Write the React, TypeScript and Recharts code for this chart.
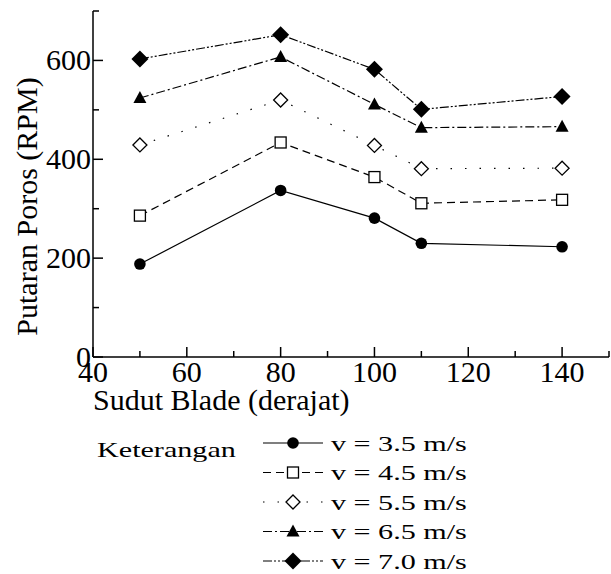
import React from "react";
import { LineChart, Line, XAxis, YAxis } from "recharts";

const angles = [50, 80, 100, 110, 140];
const v35 = [188, 337, 281, 230, 223];
const v45 = [286, 434, 364, 311, 318];
const v55 = [429, 520, 428, 381, 382];
const v65 = [524, 607, 511, 464, 466];
const v70 = [603, 652, 582, 501, 527];

const xMajor = [40, 60, 80, 100, 120, 140];
const xMinor = [50, 70, 90, 110, 130, 150];
const yMajor = [0, 200, 400, 600];
const yMinor = [100, 300, 500, 700];

const labels = ["v = 3.5 m/s", "v = 4.5 m/s", "v = 5.5 m/s", "v = 6.5 m/s", "v = 7.0 m/s"];

const FONT = "'Liberation Serif', 'Times New Roman', serif";

const data = angles.map((a, i) => ({
  angle: a,
  v35: v35[i],
  v45: v45[i],
  v55: v55[i],
  v65: v65[i],
  v70: v70[i],
}));

type Kind = "circle" | "square" | "odiamond" | "triangle" | "diamond";

const series: { key: string; kind: Kind; dash?: string }[] = [
  { key: "v35", kind: "circle" },
  { key: "v45", kind: "square", dash: "8 5" },
  { key: "v55", kind: "odiamond", dash: "1.5 13" },
  { key: "v65", kind: "triangle", dash: "9 3 2 3" },
  { key: "v70", kind: "diamond", dash: "9 2 2 2 2 2" },
];

function Marker({ kind, cx, cy }: { kind: Kind; cx: number; cy: number }) {
  if (kind === "circle") return <circle cx={cx} cy={cy} r={5.8} fill="#000" />;
  if (kind === "square")
    return <rect x={cx - 5.5} y={cy - 5.5} width={11} height={11} fill="#fff" stroke="#000" strokeWidth={1.3} />;
  if (kind === "odiamond")
    return (
      <polygon
        points={`${cx},${cy - 7} ${cx + 7},${cy} ${cx},${cy + 7} ${cx - 7},${cy}`}
        fill="#fff"
        stroke="#000"
        strokeWidth={1.3}
      />
    );
  if (kind === "triangle")
    return <polygon points={`${cx},${cy - 7} ${cx + 6.5},${cy + 5} ${cx - 6.5},${cy + 5}`} fill="#000" />;
  return <polygon points={`${cx},${cy - 8.5} ${cx + 8.5},${cy} ${cx},${cy + 8.5} ${cx - 8.5},${cy}`} fill="#000" />;
}

const tickStroke = { stroke: "#000", strokeWidth: 1.5 };

function BottomTick(props: any) {
  const { x, y, payload } = props;
  const major = xMajor.includes(payload.value);
  return (
    <g>
      <line x1={x} x2={x} y1={y} y2={y - (major ? 10 : 6)} {...tickStroke} />
      {major && (
        <text x={x} y={y + 25} textAnchor="middle" fontSize={30} fontFamily={FONT} fill="#000">
          {payload.value}
        </text>
      )}
    </g>
  );
}

function TopTick(props: any) {
  const { x, y, payload } = props;
  const major = xMajor.includes(payload.value);
  return <line x1={x} x2={x} y1={y} y2={y + (major ? 10 : 6)} {...tickStroke} />;
}

function LeftTick(props: any) {
  const { x, y, payload } = props;
  const major = yMajor.includes(payload.value);
  return (
    <g>
      <line x1={x} x2={x + (major ? 10 : 6)} y1={y} y2={y} {...tickStroke} />
      {major && (
        <text x={x - 2} y={y + 10} textAnchor="end" fontSize={30} fontFamily={FONT} fill="#000">
          {payload.value}
        </text>
      )}
    </g>
  );
}

function RightTick(props: any) {
  const { x, y, payload } = props;
  const major = yMajor.includes(payload.value);
  return <line x1={x} x2={x - (major ? 10 : 6)} y1={y} y2={y} {...tickStroke} />;
}

function LegendBox() {
  const rowY = [443, 472.5, 502, 531.5, 561];
  return (
    <svg width={611} height={574} style={{ position: "absolute", left: 0, top: 0, pointerEvents: "none" }}>
      <text
        transform="translate(97,456.5) scale(1.37,1)"
        fontSize={22}
        fontFamily={FONT}
        fill="#000"
      >
        Keterangan
      </text>
      {series.map((s, i) => (
        <g key={s.key}>
          <line
            x1={263}
            x2={323}
            y1={rowY[i]}
            y2={rowY[i]}
            stroke="#000"
            strokeWidth={1.2}
            strokeDasharray={s.dash}
          />
          <Marker kind={s.kind} cx={293} cy={rowY[i]} />
          <text
            transform={`translate(331,${rowY[i] + 7.5}) scale(1.37,1)`}
            fontSize={22}
            fontFamily={FONT}
            fill="#000"
          >
            {labels[i]}
          </text>
        </g>
      ))}
    </svg>
  );
}

export default function App() {
  return (
    <div style={{ position: "absolute", left: 0, top: 0, width: 611, height: 574, background: "#fff" }}>
      <LineChart width={611} height={574} data={data} margin={{ top: 11, right: 2, bottom: 0, left: 0 }}>
        <XAxis
          dataKey="angle"
          type="number"
          domain={[40, 150]}
          ticks={[...xMajor, ...xMinor].sort((a, b) => a - b)}
          interval={0}
          height={217}
          tickLine={false}
          tickSize={0}
          tickMargin={0}
          tick={<BottomTick />}
          axisLine={{ stroke: "#000", strokeWidth: 1.5 }}
          label={{
            content: () => (
              <text x={93} y={410} fontSize={30} fontFamily={FONT} fill="#000">
                Sudut Blade (derajat)
              </text>
            ),
          }}
        />
        <XAxis
          xAxisId="top"
          orientation="top"
          type="number"
          domain={[40, 150]}
          ticks={[...xMajor, ...xMinor].sort((a, b) => a - b)}
          interval={0}
          height={0}
          tickLine={false}
          tickSize={0}
          tickMargin={0}
          tick={<TopTick />}
          axisLine={{ stroke: "#000", strokeWidth: 1.5 }}
        />
        <YAxis
          type="number"
          domain={[0, 700]}
          ticks={[...yMajor, ...yMinor].sort((a, b) => a - b)}
          interval={0}
          width={93}
          tickLine={false}
          tickSize={0}
          tickMargin={0}
          tick={<LeftTick />}
          axisLine={{ stroke: "#000", strokeWidth: 1.5 }}
          label={{
            content: () => (
              <text
                transform="translate(37,206.5) rotate(-90)"
                textAnchor="middle"
                fontSize={30}
                fontFamily={FONT}
                fill="#000"
              >
                Putaran Poros (RPM)
              </text>
            ),
          }}
        />
        <YAxis
          yAxisId="right"
          orientation="right"
          type="number"
          domain={[0, 700]}
          ticks={[...yMajor, ...yMinor].sort((a, b) => a - b)}
          interval={0}
          width={0}
          tickLine={false}
          tickSize={0}
          tickMargin={0}
          tick={<RightTick />}
          axisLine={{ stroke: "#000", strokeWidth: 1.5 }}
        />
        {series.map((s) => (
          <Line
            key={s.key}
            dataKey={s.key}
            type="linear"
            stroke="#000"
            strokeWidth={1.2}
            strokeDasharray={s.dash}
            isAnimationActive={false}
            dot={(p: any) => <Marker key={`${s.key}-${p.index}`} kind={s.kind} cx={p.cx} cy={p.cy} />}
            activeDot={false}
          />
        ))}
      </LineChart>
      <LegendBox />
    </div>
  );
}
